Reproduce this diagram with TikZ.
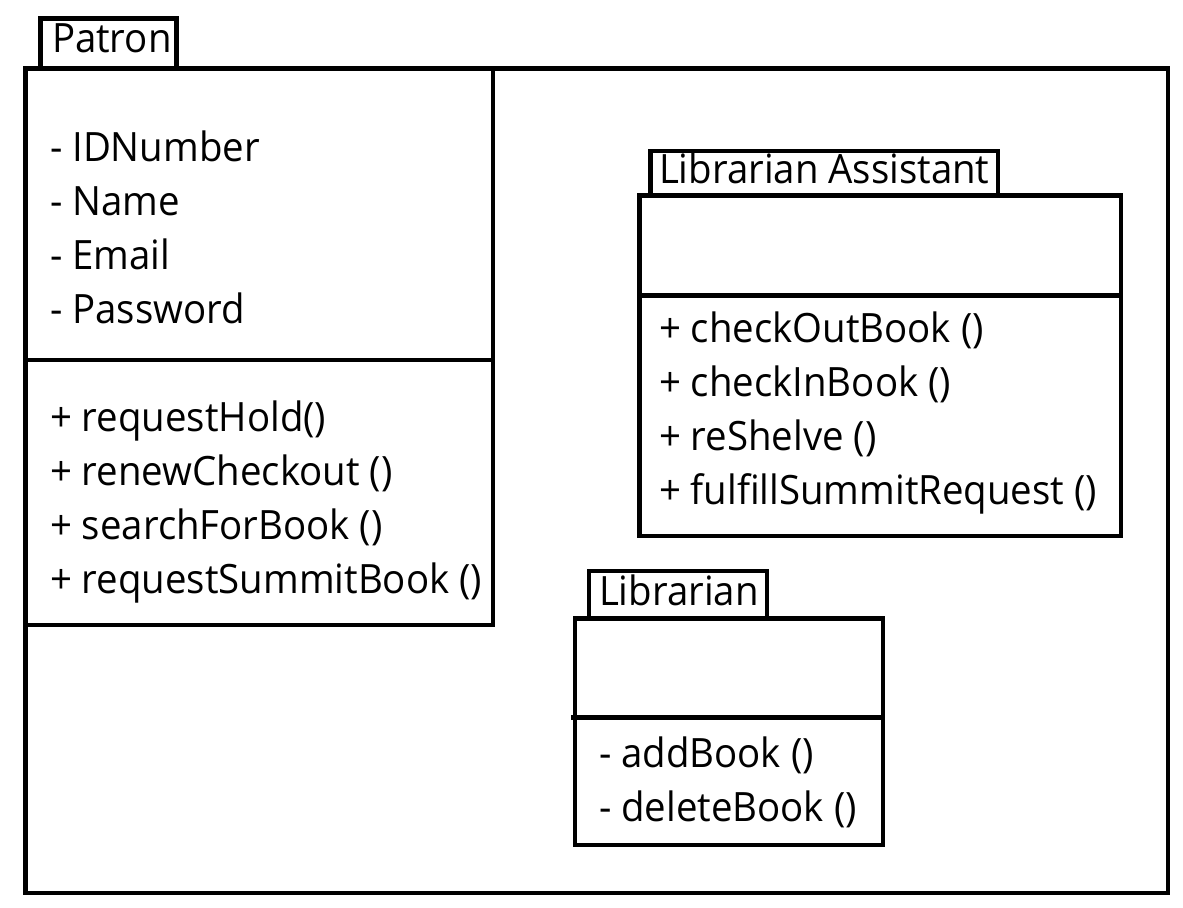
\documentclass[tikz,border=0pt]{standalone}
\usepackage{fontspec}
\setmainfont[FakeStretch=0.95]{Open Sans}
\begin{document}
\begin{tikzpicture}[x=0.5pt,y=-0.5pt,
  frame/.style={draw=black,line width=2.4pt,fill=white},
  sep/.style={draw=black,line width=2.4pt},
  txt/.style={anchor=base west,inner sep=0pt,outer sep=0pt,font=\fontsize{20.2}{24}\selectfont}]
\useasboundingbox (0,0) rectangle (1183,908);
% outer package
\draw[frame] (40.5,18.5) rectangle (176.5,68.5);
\draw[frame] (25.5,68.5) rectangle (1168,893);
\node[txt] (pkg) at (52,53) {Patron};
% Patron class
\draw[frame] (25.5,68.5) rectangle (493,625);
\draw[sep] (25.5,360) -- (493,360);
\node[txt] (p1) at (50,162) {- IDNumber};
\node[txt] (p2) at (50,216) {- Name};
\node[txt] (p3) at (50,270) {- Email};
\node[txt] (p4) at (50,324) {- Password};
\node[txt] (m1) at (50,432) {+ requestHold()};
\node[txt] (m2) at (50,486) {+ renewCheckout ()};
\node[txt] (m3) at (50,540) {+ searchForBook ()};
\node[txt] (m4) at (50,594) {+ requestSummitBook ()};
% Librarian Assistant
\draw[frame] (650.5,151) rectangle (998,195.5);
\draw[frame] (639.5,195.5) rectangle (1121,536);
\draw[sep] (639.5,295.5) -- (1121,295.5);
\node[txt] (la) at (659,184) {Librarian Assistant};
\node[txt] (a1) at (659,343) {+ checkOutBook ()};
\node[txt] (a2) at (659,397) {+ checkInBook ()};
\node[txt] (a3) at (659,451) {+ reShelve ()};
\node[txt] (a4) at (659,505) {+ fulfillSummitRequest ()};
% Librarian
\draw[frame] (589,571) rectangle (767,618.5);
\draw[frame] (575,618.5) rectangle (883,845);
\draw[sep] (571,717.5) -- (883,717.5);
\node[txt] (lb) at (599,605) {Librarian};
\node[txt] (b1) at (599,767) {- addBook ()};
\node[txt] (b2) at (599,821) {- deleteBook ()};
\end{tikzpicture}
\end{document}
